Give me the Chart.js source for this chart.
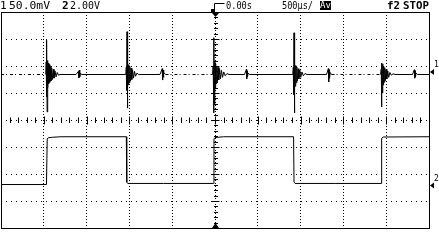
<!DOCTYPE html>
<html>
<head>
<meta charset="utf-8">
<script src="https://cdn.jsdelivr.net/npm/chart.js@4.4.1/dist/chart.umd.min.js"></script>
<style>
  html, body { margin: 0; padding: 0; background: #fff; }
  #wrap { position: relative; width: 439px; height: 240px; overflow: hidden; }
  #scope { position: absolute; left: 0; top: 0; }
  .lbl { position: absolute; top: 0; font: 11px "DejaVu Sans Mono", monospace; line-height: 11px; color: #000; white-space: nowrap; transform-origin: 0 0; }
  .b { font-weight: bold; }
  .inv { background: #000; color: #fff; top: 1px; width: 11px; height: 9px; font-size: 9px; line-height: 9px; text-align: center; overflow: hidden; }
  .small { font-size: 8px; line-height: 8px; }
</style>
</head>
<body>
<div id="wrap">
  <canvas id="scope" width="439" height="240"></canvas>
  <span class="lbl" style="left:0px">1</span>
  <span class="lbl fit" data-w="41" style="left:9px">50.0mV</span>
  <span class="lbl b" style="left:62px">2</span>
  <span class="lbl fit" data-w="30" style="left:70px">2.00V</span>
  <span class="lbl fit" data-w="26" style="left:226px">0.00s</span>
  <span class="lbl fit" data-w="31" style="left:282px">500µs/</span>
  <span class="lbl inv" style="left:320px">Av</span>
  <span class="lbl b fit" data-w="13" style="left:387px">f2</span>
  <span class="lbl b fit" data-w="26" style="left:403px">STOP</span>
  <span class="lbl small" style="left:434px;top:61px">1</span>
  <span class="lbl small" style="left:434px;top:175px">2</span>
</div>
<script>
// time in ms (500us/div, trigger at centre), level in screen divisions
// channel 1: spikes at the edges of the square wave
const ch1Time = [
  -2.500, -1.977,
  -1.977, -1.972, -1.970, -1.965, -1.961, -1.957, -1.952, -1.947, -1.942, -1.936, -1.930,
  -1.923, -1.916, -1.908, -1.900, -1.890, -1.881, -1.869, -1.857, -1.843, -1.828, -1.811,
  -1.624, -1.595, -1.590, -1.585, -1.580, -1.573, -1.559,
  -1.042, -1.036, -1.033, -1.028, -1.023, -1.019, -1.014, -1.008, -1.002, -0.995, -0.988,
  -0.980, -0.972, -0.963, -0.952, -0.940, -0.928, -0.911, -0.894,
  -0.643, -0.617, -0.612, -0.607, -0.603, -0.596, -0.578,
  -0.029, -0.021, -0.016, -0.012, -0.007, -0.002, 0.002, 0.008, 0.014, 0.021, 0.028,
  0.036, 0.044, 0.053, 0.064, 0.075, 0.088, 0.102, 0.119, 0.140, 0.164,
  0.345, 0.366, 0.370, 0.375, 0.380, 0.387, 0.403,
  0.909, 0.915, 0.918, 0.923, 0.928, 0.932, 0.937, 0.943, 0.949, 0.956, 0.963,
  0.971, 0.980, 0.991, 1.002, 1.016, 1.032, 1.051, 1.075,
  1.303, 1.324, 1.328, 1.333, 1.338, 1.345, 1.361,
  1.935, 1.942, 1.945, 1.950, 1.955, 1.960, 1.964, 1.970, 1.976, 1.983, 1.990,
  1.998, 2.007, 2.018, 2.029, 2.043, 2.060, 2.079, 2.103,
  2.307, 2.328, 2.333, 2.337, 2.342, 2.349, 2.366, 2.500
];
const ch1Div = [
  1.685, 1.685,
  1.685, 2.15, 0.85, 2.96, 0.30, 2.20, 1.20, 2.10, 1.35, 2.05, 1.40,
  1.98, 1.45, 1.92, 1.50, 1.88, 1.55, 1.82, 1.60, 1.76, 1.66, 1.685,
  1.685, 1.80, 1.56, 1.85, 1.60, 1.74, 1.685,
  1.685, 1.96, 1.10, 3.27, 0.44, 2.15, 1.30, 2.05, 1.38, 1.98, 1.44,
  1.92, 1.50, 1.86, 1.55, 1.80, 1.62, 1.74, 1.685,
  1.685, 1.90, 1.48, 1.85, 1.58, 1.76, 1.685,
  1.685, 2.00, 0.26, 3.05, 0.60, 2.15, 1.20, 2.08, 1.35, 2.00, 1.42,
  1.95, 1.48, 1.90, 1.52, 1.84, 1.58, 1.78, 1.64, 1.72, 1.685,
  1.685, 1.87, 1.52, 1.82, 1.60, 1.74, 1.685,
  1.685, 1.95, 0.95, 3.23, 0.26, 2.10, 1.25, 2.02, 1.38, 1.96, 1.45,
  1.90, 1.52, 1.85, 1.58, 1.78, 1.64, 1.72, 1.685,
  1.685, 1.90, 1.41, 1.86, 1.55, 1.76, 1.685,
  1.685, 1.88, 0.48, 2.11, 1.00, 2.08, 1.30, 2.00, 1.40, 1.94, 1.46,
  1.88, 1.52, 1.82, 1.58, 1.76, 1.66, 1.71, 1.685,
  1.685, 1.86, 1.55, 1.82, 1.60, 1.74, 1.685, 1.685
];
// stretches where the averaged ch1 trace is only sparsely drawn (ms)
const ch1SparseSpans = [[-2.5, -1.98], [-0.58, -0.03], [1.36, 1.93]];

// channel 2: square wave
const ch2Time = [-2.500, -1.969, -1.960, -1.950, -1.900, -1.800, -1.036, -1.031, -1.020, -0.600,
  -0.018, -0.012, 0.000, 0.100, 0.918, 0.923, 0.935, 1.400, 1.942, 1.947, 1.965, 2.500];
const ch2Div = [-2.39, -2.39, -0.70, -0.66, -0.64, -0.62, -0.62, -2.30, -2.35, -2.35,
  -2.35, -0.70, -0.65, -0.62, -0.62, -2.30, -2.35, -2.35, -2.35, -0.68, -0.63, -0.62];

// ground markers on the right edge, in divisions
const ch1Ground = 1.78;
const ch2Ground = -2.43;

const toPoints = (ts, vs) => ts.map((t, i) => ({ x: t, y: vs[i] }));
const inSparse = t => ch1SparseSpans.some(([a, b]) => t >= a && t < b);

const scopeDecor = {
  id: 'scopeDecor',
  afterDraw(chart) {
    const { ctx, chartArea: a, scales: { x, y } } = chart;
    const cx = Math.round(x.getPixelForValue(0)) + 0.5;
    const cy = Math.round(y.getPixelForValue(0)) + 0.5;
    ctx.save();
    ctx.strokeStyle = '#000';
    ctx.fillStyle = '#000';
    ctx.lineWidth = 1;

    // graticule frame
    ctx.strokeRect(a.left + 0.5, a.top + 0.5, a.width, a.height);

    // minor ticks on centre axes
    ctx.beginPath();
    for (let i = 0; i <= 50; i++) {
      const px = Math.round(x.getPixelForValue(x.min + i * 0.1)) + 0.5;
      const big = i % 5 === 0;
      ctx.moveTo(px, cy - (big ? 4 : 3));
      ctx.lineTo(px, cy + (big ? 4 : 2.5));
    }
    for (let i = 0; i <= 40; i++) {
      const py = Math.round(y.getPixelForValue(y.min + i * 0.2)) + 0.5;
      const big = i % 5 === 0;
      ctx.moveTo(cx - (big ? 4 : 1.5), py);
      ctx.lineTo(cx + (big ? 4 : 2.5), py);
    }
    ctx.stroke();

    // trigger position markers
    ctx.beginPath();
    ctx.moveTo(cx - 3.5, a.top + 1);
    ctx.lineTo(cx + 3.5, a.top + 1);
    ctx.lineTo(cx, a.top + 5);
    ctx.closePath();
    ctx.moveTo(cx - 3.5, a.bottom);
    ctx.lineTo(cx + 3.5, a.bottom);
    ctx.lineTo(cx, a.bottom - 5);
    ctx.closePath();
    ctx.fill();

    // delay bracket in the header
    ctx.fillRect(cx - 4.5, a.top - 3, 3, 3);
    ctx.beginPath();
    ctx.moveTo(cx - 1, a.top);
    ctx.lineTo(cx - 1, 3.5);
    ctx.lineTo(cx + 9, 3.5);
    ctx.stroke();

    // channel ground markers
    [ch1Ground, ch2Ground].forEach(g => {
      const py = y.getPixelForValue(g);
      ctx.beginPath();
      ctx.moveTo(a.right + 1, py);
      ctx.lineTo(a.right + 5, py - 3);
      ctx.lineTo(a.right + 5, py + 3);
      ctx.closePath();
      ctx.fill();
    });
    ctx.restore();
  }
};

new Chart(document.getElementById('scope'), {
  type: 'line',
  data: {
    datasets: [
      {
        data: toPoints(ch1Time, ch1Div), borderColor: '#000', borderWidth: 1, borderJoinStyle: 'bevel',
        segment: { borderDash: c => inSparse(c.p0.parsed.x) ? [3, 2, 1, 3] : undefined }
      },
      { data: toPoints(ch2Time, ch2Div), borderColor: '#000', borderWidth: 1, borderJoinStyle: 'bevel' }
    ]
  },
  options: {
    responsive: false,
    animation: false,
    layout: { padding: { left: 1, right: 10, top: 12, bottom: 12 } },
    plugins: { legend: { display: false }, tooltip: { enabled: false } },
    elements: { point: { radius: 0 }, line: { tension: 0 } },
    scales: {
      x: {
        type: 'linear', min: -2.5, max: 2.5,
        ticks: { display: false, stepSize: 0.5 },
        grid: { color: '#000', lineWidth: 1, drawTicks: false },
        border: { display: false, dash: [1, 2] }
      },
      y: {
        type: 'linear', min: -4, max: 4,
        ticks: { display: false, stepSize: 1 },
        grid: { color: '#000', lineWidth: 1, drawTicks: false },
        border: { display: false, dash: [1, 4] }
      }
    }
  },
  plugins: [scopeDecor]
});

document.querySelectorAll('.fit').forEach(el => {
  const w = +el.dataset.w;
  el.style.transform = `scaleX(${w / el.getBoundingClientRect().width})`;
});
</script>
</body>
</html>
